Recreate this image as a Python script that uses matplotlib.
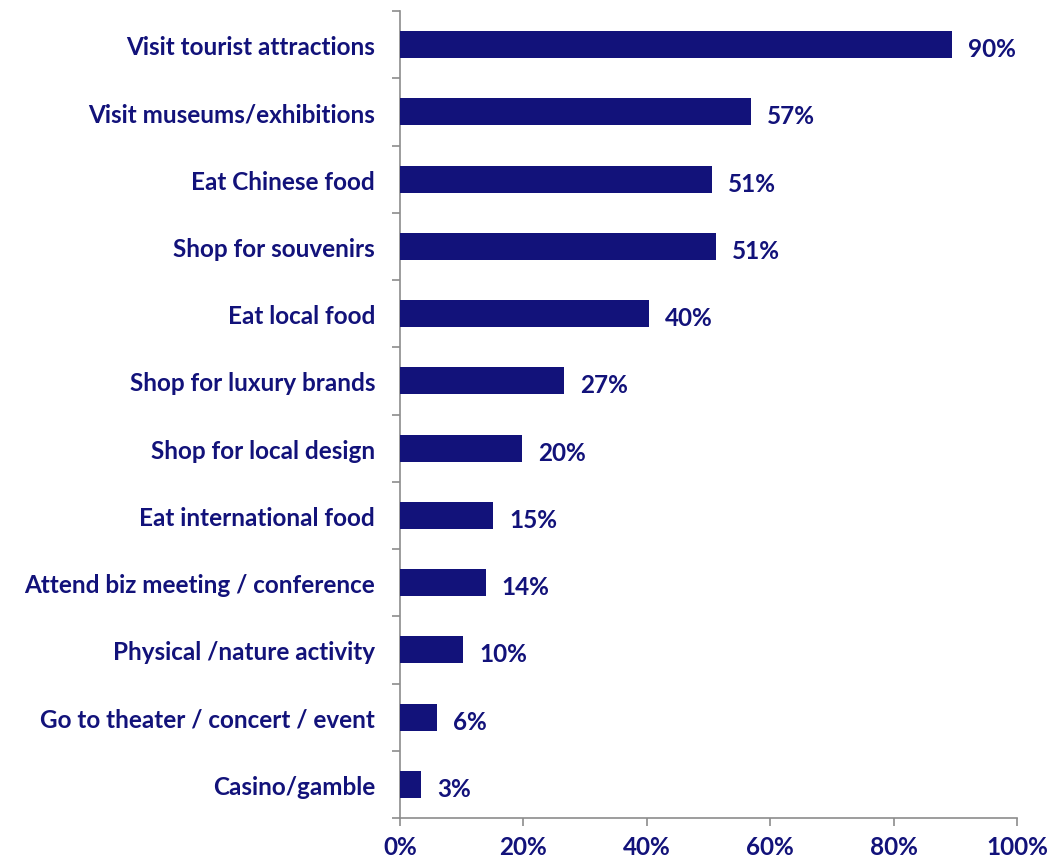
import matplotlib
matplotlib.use("Agg")
import matplotlib.pyplot as plt
from matplotlib.ticker import FixedLocator, PercentFormatter

categories = [
    "Visit tourist attractions",
    "Visit museums/exhibitions",
    "Eat Chinese food",
    "Shop for souvenirs",
    "Eat local food",
    "Shop for luxury brands",
    "Shop for local design",
    "Eat international food",
    "Attend biz meeting / conference",
    "Physical /nature activity",
    "Go to theater / concert / event",
    "Casino/gamble",
]
shares = [89.5, 56.9, 50.6, 51.2, 40.4, 26.6, 19.8, 15.1, 13.9, 10.2, 6.0, 3.4]
x_ticks = [0, 20, 40, 60, 80, 100]

navy = "#12127a"
axis_grey = "#8c8c8c"
fsize = 17.5
plt.rcParams["font.family"] = ["Lato", "DejaVu Sans"]

fig = plt.figure(figsize=(10.58, 8.62), dpi=100)
ax = fig.add_axes([400 / 1058, 1 - 819 / 862, 617 / 1058, 807 / 862])

n = len(categories)
ypos = list(range(n))
ax.barh(ypos, shares, height=0.4, color=navy, zorder=3)

for y, v in zip(ypos, shares):
    ax.text(v + 2.6, y + 0.06, f"{v:.0f}%", va="center", ha="left",
            fontsize=fsize, fontweight="bold", color=navy)

ax.set_ylim(n - 0.5, -0.5)
ax.set_xlim(0, 100)

ax.set_yticks(ypos)
ax.set_yticklabels(categories)
ax.yaxis.set_minor_locator(FixedLocator([i - 0.5 for i in range(n + 1)]))
ax.tick_params(axis="y", which="major", length=0, pad=18)
ax.tick_params(axis="y", which="minor", length=6, width=1.2, color=axis_grey)

ax.set_xticks(x_ticks)
ax.xaxis.set_major_formatter(PercentFormatter(decimals=0))
ax.tick_params(axis="x", which="major", length=6, width=1.2, color=axis_grey, pad=6)

for lbl in ax.get_yticklabels() + ax.get_xticklabels():
    lbl.set_fontsize(fsize)
    lbl.set_fontweight("bold")
    lbl.set_color(navy)

for side in ("top", "right"):
    ax.spines[side].set_visible(False)
for side in ("left", "bottom"):
    ax.spines[side].set_color(axis_grey)
    ax.spines[side].set_linewidth(1.2)

fig.savefig("out.png", dpi=100, facecolor="white")
